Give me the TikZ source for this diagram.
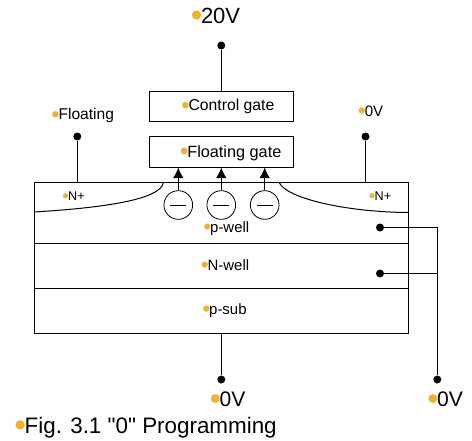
\documentclass[tikz,border=0pt]{standalone}
\usepackage{fontspec}
\setmainfont[Ligatures=TeXOff]{Liberation Sans}
\usetikzlibrary{arrows.meta}
\definecolor{bulletorange}{RGB}{240,176,48}
\newcommand{\lbl}[2]{\fontsize{#1}{#1}\selectfont{\color{bulletorange}\raisebox{-.17em}{\scalebox{1.5}{\textbullet}}}\kern-.06em #2}
\tikzset{
  region/.style={draw,line width=.75pt,inner sep=0pt,minimum width=280.5pt},
  gatebox/.style={draw,line width=.75pt,inner sep=0pt,minimum width=108.4pt},
  pin/.style={circle,fill=black,inner sep=0pt,minimum size=6pt},
  electron/.style={circle,draw,line width=.6pt,inner sep=0pt,minimum size=21.5pt},
  wire/.style={line width=.75pt},
  lab/.style={anchor=base west,inner sep=0pt}
}
\begin{document}
\begin{tikzpicture}[x=.75pt,y=-.75pt]
\useasboundingbox (0,0) rectangle (472,440);
% wells
\node[region,minimum height=45.75pt] (pwell) at (221.3,212.5) {};
\node[region,minimum height=33.75pt] (nwell) at (221.3,265.5) {};
\node[region,minimum height=33.75pt] (psub) at (221.3,310.5) {};
% gates
\node[gatebox,minimum height=22.5pt] (cgate) at (221.3,106) {};
\node[gatebox,minimum height=23.25pt] (fgate) at (221.3,151.5) {};
% N+ edges
\coordinate (srcin) at (163.5,182);
\coordinate (srcout) at (34,212);
\coordinate (drnin) at (279,182);
\coordinate (drnout) at (408,212.5);
\draw[wire] (srcin) .. controls (162,200) and (100,208) .. (srcout);
\draw[wire] (drnin) .. controls (285,198) and (345,212) .. (drnout);
% electrons
\foreach \name/\pos in {ea/178.3,eb/221.3,ec/264.7} {
  \node[electron] (\name) at (\pos,205) {};
  \draw[line width=.6pt] (\pos-8,205) -- (\pos+8,205);
  \draw[wire,arrows=-{Latex[length=8pt,width=8pt]}] (\name) -- (\name |- fgate.south);
}
% terminals
\node[pin] (gpin) at (221.3,45.5) {};
\node[pin] (spin) at (77.3,136.5) {};
\node[pin] (dpin) at (365.5,136.5) {};
\node[pin] (subpin) at (221.3,379.5) {};
\node[pin] (ppin) at (380,227.5) {};
\node[pin] (npin) at (380,273.5) {};
\node[pin] (wpin) at (437.3,379.5) {};
\coordinate (wtop) at (437.3,227.5);
\coordinate (wmid) at (437.3,273.5);
\draw[wire] (gpin) -- (cgate);
\draw[wire] (spin) -- (spin |- pwell.north);
\draw[wire] (dpin) -- (dpin |- pwell.north);
\draw[wire] (psub) -- (subpin);
\draw[wire] (ppin) -- (wtop) -- (wpin);
\draw[wire] (npin) -- (wmid);
% labels
\node[lab] (lgate) at (190.5,23) {\lbl{16.5}{20V}};
\node[lab] (lcg) at (181,110.5) {\lbl{11.8}{Control gate}};
\node[lab] (lfg) at (179.5,157) {\lbl{12.2}{Floating gate}};
\node[lab] (lsrc) at (51,119.5) {\lbl{11.7}{Floating}};
\node[lab] (ldrn) at (357.5,116) {\lbl{11.3}{0V}};
\node[lab] (lns) at (62,200) {\lbl{9.5}{N+}};
\node[lab] (lnd) at (368.5,200) {\lbl{9.5}{N+}};
\node[lab] (lpw) at (203,232) {\lbl{11.2}{p-well}};
\node[lab] (lnw) at (200.5,270) {\lbl{11.2}{N-well}};
\node[lab] (lps) at (202,314) {\lbl{11.2}{p-sub}};
\node[lab] (lsub) at (209.5,406) {\lbl{15.8}{0V}};
\node[lab] (lw) at (427,406) {\lbl{15.8}{0V}};
\node[lab] (lfig) at (14,433) {\lbl{16.8}{Fig. 3.1 "0" Programming}};
\end{tikzpicture}
\end{document}
